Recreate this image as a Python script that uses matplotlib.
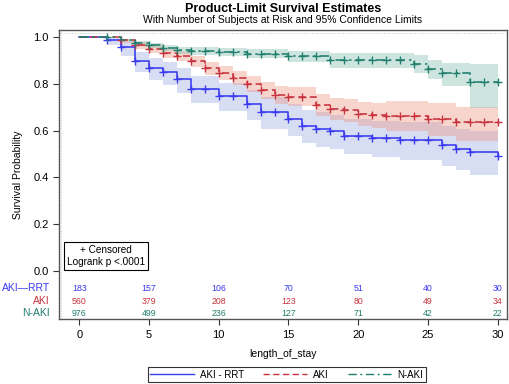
#!/usr/bin/env python3
# km_plot.py - product-limit survival curves with risk table

import numpy as np
import matplotlib
matplotlib.use("Agg")
import matplotlib.pyplot as plt
from matplotlib.lines import Line2D

plt.rcParams["font.family"] = ["Liberation Sans", "DejaVu Sans"]

# ---- data ----
rrt_t = [0, 2, 3, 4, 5, 6, 7, 8, 10, 12, 13, 15, 16, 17, 18, 19, 21, 23, 26, 27, 28, 30]
rrt_s = [1.0, 0.987, 0.957, 0.897, 0.868, 0.850, 0.821, 0.780, 0.747, 0.712, 0.680,
         0.649, 0.620, 0.609, 0.598, 0.578, 0.568, 0.560, 0.538, 0.521, 0.507, 0.490]
rrt_lo = [1.0, 0.965, 0.920, 0.850, 0.815, 0.795, 0.762, 0.718, 0.683, 0.645, 0.608,
          0.575, 0.545, 0.532, 0.520, 0.498, 0.486, 0.476, 0.450, 0.430, 0.410, 0.410]
rrt_hi = [1.0, 0.997, 0.978, 0.935, 0.910, 0.895, 0.870, 0.835, 0.805, 0.772, 0.743,
          0.715, 0.688, 0.678, 0.668, 0.650, 0.642, 0.636, 0.618, 0.605, 0.600, 0.600]

aki_t = [0, 3, 4, 5, 6, 7, 8, 9, 10, 11, 12, 13, 14, 15, 17, 18, 19, 20, 21, 22, 25, 27, 30]
aki_s = [1.0, 0.986, 0.965, 0.951, 0.932, 0.919, 0.896, 0.867, 0.846, 0.826, 0.800, 0.774,
         0.753, 0.746, 0.711, 0.694, 0.689, 0.672, 0.666, 0.662, 0.648, 0.635, 0.635]
aki_lo = [1.0, 0.975, 0.950, 0.933, 0.912, 0.896, 0.871, 0.840, 0.817, 0.795, 0.765, 0.737,
          0.714, 0.705, 0.664, 0.645, 0.638, 0.618, 0.610, 0.600, 0.578, 0.555, 0.555]
aki_hi = [1.0, 0.994, 0.978, 0.967, 0.950, 0.939, 0.919, 0.893, 0.875, 0.857, 0.835, 0.810,
          0.792, 0.786, 0.755, 0.740, 0.736, 0.724, 0.720, 0.727, 0.717, 0.703, 0.703]

naki_t = [0, 3, 4, 5, 6, 7, 8, 10, 12, 15, 18, 24, 25, 26, 28, 30]
naki_s = [1.0, 0.987, 0.974, 0.966, 0.954, 0.944, 0.941, 0.937, 0.930, 0.918, 0.902,
          0.886, 0.864, 0.845, 0.810, 0.810]
naki_lo = [1.0, 0.979, 0.963, 0.953, 0.939, 0.928, 0.924, 0.918, 0.909, 0.893, 0.866,
           0.846, 0.820, 0.790, 0.696, 0.696]
naki_hi = [1.0, 0.994, 0.983, 0.977, 0.967, 0.958, 0.956, 0.954, 0.948, 0.940, 0.932,
           0.922, 0.904, 0.888, 0.886, 0.886]

rrt_cens = [2, 3, 4, 5, 6, 7, 8, 9, 10, 11, 12, 13, 14, 15, 16, 17, 18, 19, 20, 21,
            22, 23, 24, 25, 26, 27, 28, 30]
aki_cens = [3, 4, 5, 6, 7, 8, 9, 10, 11, 12, 13, 14, 15, 16, 17, 18, 19, 20, 21, 22,
            23, 24, 25, 26, 27, 28, 29, 30]
naki_cens = [2, 4, 5, 6, 7, 8, 9, 10, 11, 12, 13, 14, 15, 16, 17, 18, 19, 20, 21, 22,
             23, 24, 25, 26, 27, 28, 29, 30]

risk_times = [0, 5, 10, 15, 20, 25, 30]
rrt_risk = [183, 157, 106, 70, 51, 40, 30]
aki_risk = [560, 379, 208, 123, 80, 49, 34]
naki_risk = [976, 499, 236, 127, 71, 42, 22]

groups = [
    ("AKI - RRT", "AKI\u2014RRT", rrt_t, rrt_s, rrt_lo, rrt_hi, rrt_cens, rrt_risk,
     "#3a3af0", "#7d90d8", 0.30, "-"),
    ("AKI", "AKI", aki_t, aki_s, aki_lo, aki_hi, aki_cens, aki_risk,
     "#c8323c", "#ec9684", 0.40, (0, (4.5, 2.5))),
    ("N-AKI", "N-AKI", naki_t, naki_s, naki_lo, naki_hi, naki_cens, naki_risk,
     "#1f7f6c", "#7fbcab", 0.38, (0, (6, 2.5, 1.5, 2.5))),
]

fig = plt.figure(figsize=(5.10, 3.84), dpi=100)
ax = fig.add_axes([0.1157, 0.169, 0.8783, 0.753])

for name, row_name, t, s, lo, hi, cens, risk, col, fill, alpha, ls in groups:
    t = np.array(t, dtype=float)
    s = np.array(s)
    ax.fill_between(t, lo, hi, step="post", facecolor=fill, alpha=alpha, linewidth=0)
    ax.step(t, s, where="post", color=col, lw=1.15, linestyle=ls)
    idx = np.searchsorted(t, cens, side="right") - 1
    ax.plot(cens, s[idx], linestyle="none", marker="+", color=col, ms=6, mew=1.0)

# risk table inside the plot area
risk_y = [-0.074, -0.130, -0.183]
for g, y in zip(groups, risk_y):
    row_name, risk, col = g[1], g[7], g[8]
    for xt, n in zip(risk_times, risk):
        ax.text(xt, y, str(n), color=col, fontsize=6.3, ha="center", va="center")
    ax.text(-0.02, y, row_name, color=col, fontsize=7.5, ha="right", va="center",
            transform=ax.get_yaxis_transform())

# faint wall lines
ax.axhline(1.02, color="#c8c8c8", lw=0.7, ls=":")
ax.axvline(-1.35, color="#c8c8c8", lw=0.7, ls=":")

ax.set_xlim(-1.46, 30.67)
ax.set_ylim(-0.207, 1.031)
ax.set_xticks([0, 5, 10, 15, 20, 25, 30])
ax.set_yticks([0.0, 0.2, 0.4, 0.6, 0.8, 1.0])
ax.set_yticklabels(["0.0", "0.2", "0.4", "0.6", "0.8", "1.0"])
ax.tick_params(labelsize=8, length=4, width=0.8, color="#333333")
for sp in ax.spines.values():
    sp.set_color("#555555")
    sp.set_linewidth(1.0)

ax.set_ylabel("Survival Probability", fontsize=7.5, labelpad=7)
ax.set_xlabel("length_of_stay", fontsize=7.5, labelpad=7)

# censor / logrank box
ax.text(0.104, 0.218, "+ Censored\nLogrank p <.0001", transform=ax.transAxes,
        fontsize=7.2, ha="center", va="center", multialignment="center", linespacing=1.35,
        bbox=dict(boxstyle="square,pad=0.3", facecolor="white", edgecolor="black", lw=0.8))

fig.text(0.555, 0.976, "Product-Limit Survival Estimates", ha="center", va="center",
         fontsize=9, fontweight="bold")
fig.text(0.555, 0.948, "With Number of Subjects at Risk and 95% Confidence Limits",
         ha="center", va="center", fontsize=7.5)

handles = [Line2D([], [], color=g[8], lw=1.0, linestyle=g[11]) for g in groups]
leg = fig.legend(handles, [g[0] for g in groups], loc="center", ncol=3,
                 bbox_to_anchor=(0.562, 0.024), fontsize=7, frameon=True, fancybox=False,
                 handlelength=4.5, columnspacing=2.0, borderpad=0.25, handletextpad=0.6)
leg.get_frame().set_edgecolor("black")
leg.get_frame().set_linewidth(0.8)

fig.savefig("out.png", dpi=100)
